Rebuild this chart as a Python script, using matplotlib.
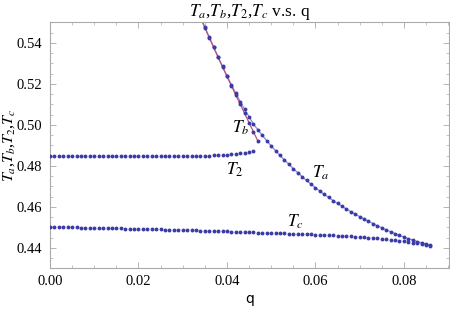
import numpy as np
import matplotlib
matplotlib.use("Agg")
import matplotlib.pyplot as plt
from matplotlib.ticker import MultipleLocator, FormatStrFormatter

# ---- data ----
q_c = [round(0.001 * i, 3) for i in range(87)]          # 0.000 .. 0.086
T_c = [0.4502, 0.4502, 0.4501, 0.4501, 0.4500, 0.4500, 0.4500, 0.4499, 0.4499, 0.4498, 0.4498,
       0.4497, 0.4497, 0.4496, 0.4496, 0.4495, 0.4495, 0.4494, 0.4494, 0.4493, 0.4493,
       0.4492, 0.4492, 0.4491, 0.4490, 0.4490, 0.4489, 0.4489, 0.4488, 0.4488, 0.4487,
       0.4486, 0.4486, 0.4485, 0.4484, 0.4484, 0.4483, 0.4483, 0.4482, 0.4482, 0.4481,
       0.4480, 0.4479, 0.4478, 0.4478, 0.4477, 0.4476, 0.4475, 0.4475, 0.4474, 0.4473,
       0.4472, 0.4471, 0.4471, 0.4470, 0.4469, 0.4468, 0.4467, 0.4467, 0.4466, 0.4465,
       0.4464, 0.4463, 0.4462, 0.4461, 0.4460, 0.4459, 0.4458, 0.4456, 0.4455, 0.4453,
       0.4452, 0.4450, 0.4448, 0.4446, 0.4444, 0.4442, 0.4440, 0.4437, 0.4435, 0.4432,
       0.4429, 0.4426, 0.4423, 0.4420, 0.4416, 0.4411]

q_2 = [round(0.001 * i, 3) for i in range(47)]          # 0.000 .. 0.046
T_2 = [0.4850, 0.4850, 0.4850, 0.4849, 0.4849, 0.4849, 0.4849, 0.4848, 0.4848, 0.4848, 0.4848,
       0.4848, 0.4847, 0.4847, 0.4847, 0.4847, 0.4847, 0.4847, 0.4846, 0.4846, 0.4846,
       0.4846, 0.4846, 0.4846, 0.4846, 0.4846, 0.4846, 0.4846, 0.4846, 0.4846, 0.4847,
       0.4847, 0.4847, 0.4848, 0.4848, 0.4849, 0.4850, 0.4851, 0.4852, 0.4853, 0.4855,
       0.4857, 0.4859, 0.4862, 0.4865, 0.4869, 0.4875]

q_a = [round(0.034 + 0.001 * i, 3) for i in range(53)]  # 0.034 .. 0.086
T_a = [0.5526, 0.5477, 0.5428, 0.5380, 0.5332, 0.5285, 0.5240, 0.5196, 0.5154, 0.5114,
       0.5076, 0.5040, 0.5004, 0.4976, 0.4949, 0.4923, 0.4898, 0.4874, 0.4851, 0.4829,
       0.4808, 0.4787, 0.4767, 0.4748, 0.4729, 0.4711, 0.4694, 0.4677, 0.4661, 0.4646,
       0.4631, 0.4617, 0.4603, 0.4590, 0.4577, 0.4565, 0.4553, 0.4541, 0.4530, 0.4519,
       0.4508, 0.4498, 0.4488, 0.4479, 0.4470, 0.4461, 0.4453, 0.4445, 0.4438, 0.4431,
       0.4425, 0.4419, 0.4412]

q_b = [round(0.034 + 0.001 * i, 3) for i in range(14)]  # 0.034 .. 0.047
T_b = [0.5524, 0.5475, 0.5426, 0.5378, 0.5330, 0.5283, 0.5237, 0.5191, 0.5146, 0.5101,
       0.5056, 0.5011, 0.4966, 0.4921]

labels = {"$T_a$": (0.0611, 0.4766), "$T_b$": (0.0430, 0.4985),
          "$T_2$": (0.0418, 0.4780), "$T_c$": (0.0555, 0.4527)}

# ---- style ----
plt.rcParams['font.family'] = ['Liberation Serif', 'DejaVu Serif']
plt.rcParams['mathtext.fontset'] = 'stix'

dot = '#3b3ba6'
fig = plt.figure(figsize=(4.5, 3.1), dpi=100)
ax = fig.add_axes([50 / 450, 1 - 268 / 310, 399 / 450, 246 / 310])

ax.plot(q_a, T_a, '-', color='#8a8ad8', lw=0.9, zorder=2)
ax.plot(q_b, T_b, '-', color='#c0507a', lw=0.9, zorder=2)
ms = 2.8
for qq, tt in [(q_c, T_c), (q_2, T_2), (q_a, T_a), (q_b, T_b)]:
    ax.plot(qq, tt, 'o', color=dot, ms=ms, mec='none', zorder=3)

for txt, (x, y) in labels.items():
    ax.text(x, y, txt, fontsize=12.5, ha='center', va='center')

ax.set_xlim(0, 0.0902)
ax.set_ylim(0.4302, 0.5502)
ax.xaxis.set_major_locator(MultipleLocator(0.02))
ax.xaxis.set_minor_locator(MultipleLocator(0.005))
ax.yaxis.set_major_locator(MultipleLocator(0.02))
ax.yaxis.set_minor_locator(MultipleLocator(0.005))
ax.xaxis.set_major_formatter(FormatStrFormatter('%.2f'))
ax.yaxis.set_major_formatter(FormatStrFormatter('%.2f'))
ax.tick_params(which='both', direction='in', top=True, right=True, color='#aaaaaa',
               labelsize=10.5)
ax.tick_params(axis='x', which='major', pad=5)
ax.tick_params(axis='y', which='major', pad=6)
ax.tick_params(which='major', length=4, width=0.6)
ax.tick_params(which='minor', length=2, width=0.5)
for s in ax.spines.values():
    s.set_color('#aaaaaa')
    s.set_linewidth(0.8)

ax.set_title('$T_a$,$T_b$,$T_2$,$T_c$ v.s. q', fontsize=12.5, pad=1)
ax.set_xlabel('q', fontsize=10, family='DejaVu Sans', labelpad=3)
ax.set_ylabel('$T_a$,$T_b$,$T_2$,$T_c$', fontsize=11.5)
ax.yaxis.set_label_coords(-0.083, 0.5)

fig.savefig('out.png', dpi=100)
